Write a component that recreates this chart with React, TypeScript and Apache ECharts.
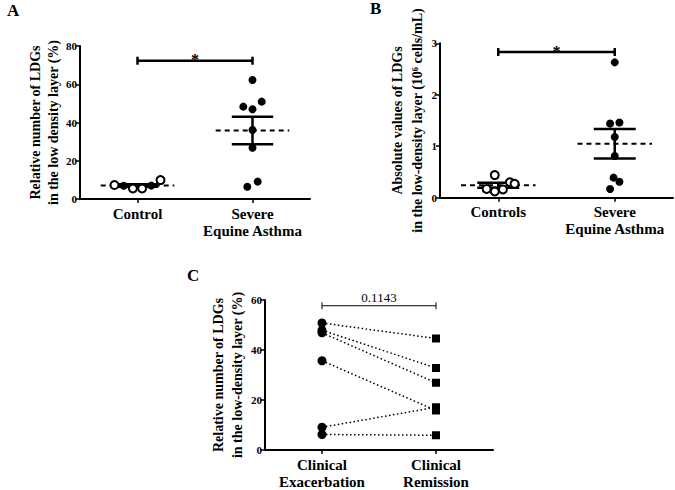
import React, { useEffect, useRef } from "react";
import * as echarts from "echarts";

const FONT = "'Liberation Serif', 'Times New Roman', serif";

// Panel A
const A_CATS = ["Control", "Severe\nEquine Asthma"];
const A_CTRL_VALUES = [7.3, 6.9, 5.5, 5.5, 7.0, 9.9];
const A_CTRL_JITTER = [-0.2, -0.12, -0.04, 0.04, 0.12, 0.2];
const A_CTRL_FILLED = [false, true, false, false, true, false];
const A_SEA_VALUES = [62.2, 50.9, 48.3, 46.9, 36.1, 26.8, 9.1, 6.4];
const A_SEA_JITTER = [0, 0.08, -0.08, 0, 0, 0, 0.045, -0.045];
const A_BRACKET_Y = 72.3;
const A_Y = { min: 0, max: 80, interval: 20 };

// Panel B
const B_CATS = ["Controls", "Severe\nEquine Asthma"];
const B_CTRL_VALUES = [0.44, 0.17, 0.12, 0.16, 0.3, 0.27];
const B_CTRL_JITTER = [-0.03, -0.1, -0.03, 0.04, 0.1, 0.14];
const B_SEA_VALUES = [2.63, 1.46, 1.44, 1.18, 0.81, 0.39, 0.31, 0.17];
const B_SEA_JITTER = [0, 0.04, -0.04, 0, 0, -0.01, 0.04, -0.04];
const B_BRACKET_Y = 2.83;
const B_Y = { min: 0, max: 3, interval: 1 };

// Panel C
const C_CATS = ["Clinical\nExacerbation", "Clinical\nRemission"];
const C_EXAC = [50.8, 47.9, 46.9, 35.7, 9.1, 6.2];
const C_REM = [44.6, 32.8, 26.9, 15.8, 17.1, 5.9];
const C_BRACKET_Y = 57.7;
const C_PVALUE = "0.1143";
const C_Y = { min: 0, max: 60, interval: 20 };

function meanSem(v: number[]) {
  const n = v.length;
  const m = v.reduce((a, b) => a + b, 0) / n;
  const sd = Math.sqrt(v.reduce((a, b) => a + (b - m) * (b - m), 0) / (n - 1));
  const se = sd / Math.sqrt(n);
  return [m, m - se, m + se];
}

function meanSemRender(halfMean: number, halfSem: number) {
  return (params: any, api: any) => {
    const x = api.value(0), m = api.value(1), lo = api.value(2), hi = api.value(3);
    const a = api.coord([x - halfMean, m]), b = api.coord([x + halfMean, m]);
    const h1 = api.coord([x - halfSem, hi]), h2 = api.coord([x + halfSem, hi]);
    const l1 = api.coord([x - halfSem, lo]), l2 = api.coord([x + halfSem, lo]);
    const v1 = api.coord([x, hi]), v2 = api.coord([x, lo]);
    const solid = { stroke: "#000", lineWidth: 2.5 };
    return {
      type: "group",
      children: [
        { type: "line", shape: { x1: a[0], y1: a[1], x2: b[0], y2: b[1] }, style: { stroke: "#000", lineWidth: 2, lineDash: [5, 4] } },
        { type: "line", shape: { x1: h1[0], y1: h1[1], x2: h2[0], y2: h2[1] }, style: solid },
        { type: "line", shape: { x1: l1[0], y1: l1[1], x2: l2[0], y2: l2[1] }, style: solid },
        { type: "line", shape: { x1: v1[0], y1: v1[1], x2: v2[0], y2: v2[1] }, style: solid },
      ],
    };
  };
}

function bracketRender(label: string, lw: number, tick: number, fontSize: number, weight: string, textGap: number) {
  return (params: any, api: any) => {
    const p1 = api.coord([api.value(0), api.value(2)]);
    const p2 = api.coord([api.value(1), api.value(2)]);
    const st = { stroke: "#000", lineWidth: lw };
    return {
      type: "group",
      children: [
        { type: "line", shape: { x1: p1[0], y1: p1[1], x2: p2[0], y2: p2[1] }, style: st },
        { type: "line", shape: { x1: p1[0], y1: p1[1] - tick, x2: p1[0], y2: p1[1] + tick }, style: st },
        { type: "line", shape: { x1: p2[0], y1: p2[1] - tick, x2: p2[0], y2: p2[1] + tick }, style: st },
        {
          type: "text",
          x: (p1[0] + p2[0]) / 2,
          y: p1[1] - textGap,
          style: { text: label, fill: "#000", opacity: 1, fontSize, fontFamily: FONT, fontWeight: weight, align: "center", verticalAlign: "middle" },
        },
      ],
    };
  };
}

function yAxis(grid: number, r: any, name: string, nameGap: number, nameSize: number, lineHeight: number) {
  return {
    type: "value",
    gridIndex: grid,
    min: r.min,
    max: r.max,
    interval: r.interval,
    name,
    nameLocation: "middle",
    nameGap,
    nameTextStyle: { color: "#000", fontFamily: FONT, fontWeight: "bold", fontSize: nameSize, lineHeight },
    axisLine: { show: true, onZero: false, lineStyle: { color: "#000", width: 2 } },
    axisTick: { show: true, length: 4, lineStyle: { color: "#000", width: 1.5 } },
    axisLabel: { color: "#000", fontFamily: FONT, fontWeight: "bold", fontSize: 11, margin: 3 },
    splitLine: { show: false },
  };
}

function xCat(grid: number, cats: string[]) {
  return {
    type: "category",
    gridIndex: grid,
    data: cats,
    boundaryGap: true,
    axisLine: { show: true, onZero: false, lineStyle: { color: "#000", width: 2 } },
    axisTick: { show: true, alignWithLabel: true, length: 4, lineStyle: { color: "#000", width: 1.5 } },
    axisLabel: { color: "#000", fontFamily: FONT, fontWeight: "bold", fontSize: 15, lineHeight: 17, margin: 6, interval: 0 },
    splitLine: { show: false },
  };
}

function xVal(grid: number) {
  return { type: "value", gridIndex: grid, min: -0.5, max: 1.5, show: false, splitLine: { show: false } };
}

export default function App() {
  const ref = useRef<HTMLDivElement>(null);
  useEffect(() => {
    if (!ref.current) return;
    const chart = echarts.init(ref.current, null, { renderer: "svg" });

    const filled = { color: "#000", opacity: 1 };
    const open = { color: "#fff", borderColor: "#000", borderWidth: 2, opacity: 1 };
    const black = { color: "#000" };

    const series: any[] = [];

    // Panel A
    series.push({
      type: "custom", xAxisIndex: 3, yAxisIndex: 0, clip: false, z: 2, itemStyle: black,
      renderItem: meanSemRender(0.32, 0.18),
      encode: { x: 0, y: 1 },
      data: [[0, ...meanSem(A_CTRL_VALUES)], [1, ...meanSem(A_SEA_VALUES)]],
    });
    series.push({
      type: "scatter", xAxisIndex: 3, yAxisIndex: 0, symbol: "circle", symbolSize: 8, z: 3,
      data: A_CTRL_VALUES.map((v, i) => ({ value: [0 + A_CTRL_JITTER[i], v], itemStyle: A_CTRL_FILLED[i] ? filled : open })),
    });
    series.push({
      type: "scatter", xAxisIndex: 3, yAxisIndex: 0, symbol: "circle", symbolSize: 8, z: 3, itemStyle: filled,
      data: A_SEA_VALUES.map((v, i) => [1 + A_SEA_JITTER[i], v]),
    });
    series.push({
      type: "custom", xAxisIndex: 3, yAxisIndex: 0, clip: false, itemStyle: black,
      renderItem: bracketRender("*", 2.5, 4, 16, "bold", 1),
      encode: { x: 0, y: 2 },
      data: [[0, 1, A_BRACKET_Y]],
    });

    // Panel B
    series.push({
      type: "custom", xAxisIndex: 4, yAxisIndex: 1, clip: false, z: 2, itemStyle: black,
      renderItem: meanSemRender(0.32, 0.18),
      encode: { x: 0, y: 1 },
      data: [[0, ...meanSem(B_CTRL_VALUES)], [1, ...meanSem(B_SEA_VALUES)]],
    });
    series.push({
      type: "scatter", xAxisIndex: 4, yAxisIndex: 1, symbol: "circle", symbolSize: 8, z: 3, itemStyle: open,
      data: B_CTRL_VALUES.map((v, i) => [0 + B_CTRL_JITTER[i], v]),
    });
    series.push({
      type: "scatter", xAxisIndex: 4, yAxisIndex: 1, symbol: "circle", symbolSize: 8, z: 3, itemStyle: filled,
      data: B_SEA_VALUES.map((v, i) => [1 + B_SEA_JITTER[i], v]),
    });
    series.push({
      type: "custom", xAxisIndex: 4, yAxisIndex: 1, clip: false, itemStyle: black,
      renderItem: bracketRender("*", 2.5, 4, 16, "bold", 1),
      encode: { x: 0, y: 2 },
      data: [[0, 1, B_BRACKET_Y]],
    });

    // Panel C
    C_EXAC.forEach((e, i) => {
      series.push({
        type: "line", xAxisIndex: 5, yAxisIndex: 2, symbol: "none", z: 2,
        lineStyle: { color: "#000", width: 1.5, type: [1.5, 2.5] },
        data: [[0, e], [1, C_REM[i]]],
      });
    });
    series.push({
      type: "scatter", xAxisIndex: 5, yAxisIndex: 2, symbol: "circle", symbolSize: 9, z: 3, itemStyle: filled,
      data: C_EXAC.map((v) => [0, v]),
    });
    series.push({
      type: "scatter", xAxisIndex: 5, yAxisIndex: 2, symbol: "rect", symbolSize: 8, z: 3, itemStyle: filled,
      data: C_REM.map((v) => [1, v]),
    });
    series.push({
      type: "custom", xAxisIndex: 5, yAxisIndex: 2, clip: false, itemStyle: black,
      renderItem: bracketRender(C_PVALUE, 1, 3.5, 13, "normal", 8),
      encode: { x: 0, y: 2 },
      data: [[0, 1, C_BRACKET_Y]],
    });

    const letter = (t: string, x: number, y: number) => ({
      type: "text", left: x, top: y,
      style: { text: t, fill: "#000", fontFamily: FONT, fontWeight: "bold", fontSize: 17 },
    });

    chart.setOption({
      animation: false,
      backgroundColor: "#fff",
      grid: [
        { left: 80, top: 46, width: 230, height: 153 },
        { left: 440, top: 43.3, width: 233, height: 154.4 },
        { left: 265, top: 300, width: 228, height: 152.3 },
      ],
      xAxis: [xCat(0, A_CATS), xCat(1, B_CATS), xCat(2, C_CATS), xVal(0), xVal(1), xVal(2)],
      yAxis: [
        yAxis(0, A_Y, "Relative number of LDGs\nin the low density layer (%)", 16, 14, 18),
        yAxis(1, B_Y, "Absolute values of LDGs\nin the low-density layer (10\u2076 cells/mL)", 12, 14, 20),
        yAxis(2, C_Y, "Relative number of LDGs\nin the low-density layer (%)", 16, 14, 19),
      ],
      graphic: [letter("A", 7, 2), letter("B", 370, 0), letter("C", 187, 267)],
      series,
    });
    return () => chart.dispose();
  }, []);
  return <div ref={ref} style={{ position: "absolute", left: 0, top: 0, width: 675, height: 490 }} />;
}
